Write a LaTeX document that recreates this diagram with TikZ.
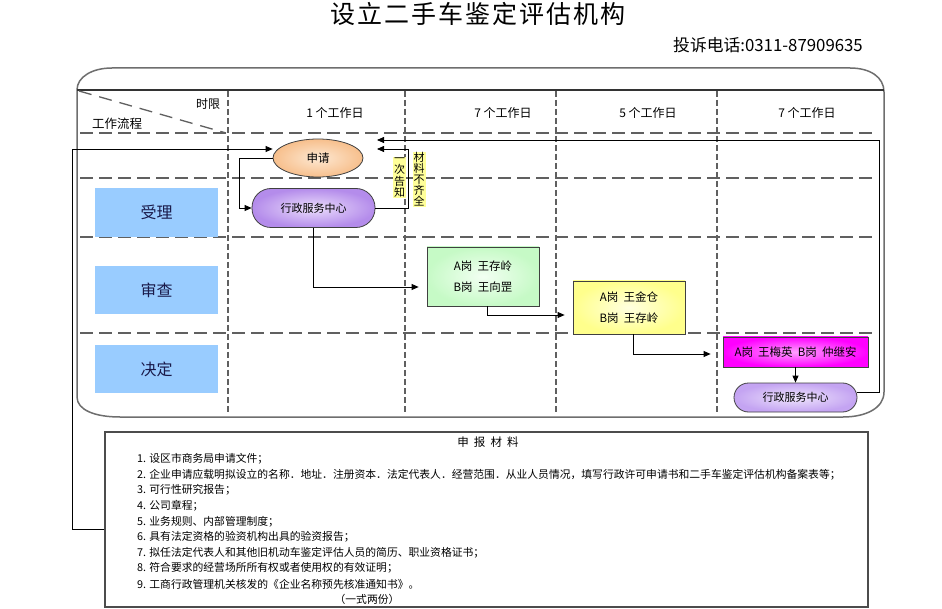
\documentclass[tikz,border=0pt]{standalone}
\usepackage{fontspec}
\setmainfont{Noto Sans CJK SC}
\usetikzlibrary{shapes.geometric,arrows.meta,calc}
\newcommand\myfs[1]{\fontsize{#1}{#1}\selectfont}
\definecolor{catblue}{HTML}{99CCFF}
\definecolor{cattext}{HTML}{1A1A4A}
\definecolor{peachO}{HTML}{F7BF8C}
\definecolor{peachI}{HTML}{FDE8D2}
\definecolor{purpO}{HTML}{B48CEB}
\definecolor{purpI}{HTML}{EBDDFB}
\definecolor{lavO}{HTML}{C4A4F2}
\definecolor{lavI}{HTML}{EEE4FC}
\definecolor{grnO}{HTML}{C6FAC6}
\definecolor{grnI}{HTML}{F2FFF2}
\definecolor{yelO}{HTML}{FFFF8C}
\definecolor{yelI}{HTML}{FFFFE0}
\definecolor{magO}{HTML}{FF00FF}
\definecolor{magI}{HTML}{FFA0FF}
\definecolor{tagY}{HTML}{FFFF99}
\definecolor{dashG}{HTML}{606060}
\definecolor{frameG}{HTML}{6E6E6E}
\begin{document}
\begin{tikzpicture}[x=1pt,y=-1pt,
  arr/.style={draw=black,line width=0.8pt,-{Triangle[length=7pt,width=6pt]}},
  plain/.style={draw=black,line width=0.8pt},
  hdash/.style={draw=dashG,line width=1.3pt,dash pattern=on 13pt off 6pt},
  vdash/.style={draw=dashG,line width=1.3pt,dash pattern=on 6pt off 3pt},
  catbox/.style={fill=catblue,minimum width=123pt,minimum height=48pt,font=\myfs{16},text=cattext,inner sep=0pt},
  hdr/.style={font=\myfs{12},inner sep=0pt},
  nbox/.style={draw=black!75,line width=0.8pt,inner sep=0pt,font=\myfs{11.5}},
  tag/.style={fill=tagY,inner sep=1pt,font=\myfs{11},align=center,text width=11pt},
  mline/.style={anchor=west,inner sep=0pt,font=\myfs{10.8}}
]
\useasboundingbox (0,0) rectangle (942,609);
\fill[white] (0,0) rectangle (942,609);

% title
\node[inner sep=0pt] (title) at (478,14) {\addfontfeature{LetterSpace=8}\myfs{25}设立二手车鉴定评估机构};
\node[anchor=west,inner sep=0pt] (phone) at (673,45) {\myfs{16.8}投诉电话:0311-87909635};

% outer frame
\draw[frameG,line width=1.5pt] (77,90) .. controls (77,77) and (92,68) .. (112,68) -- (850,68)
  .. controls (870,68) and (884,77) .. (884,92) -- (884,392)
  .. controls (884,408) and (866,417) .. (843,417) -- (120,417)
  .. controls (95,417) and (77,410) .. (77,397) -- cycle;
\draw[black!80,line width=1.2pt] (77,90) -- (884,90);

% grid
\foreach \yy in {133,178,237,333} \draw[hdash] (80,\yy) -- (877,\yy);
\foreach \xx in {228,405,556,717} \draw[vdash] (\xx,91) -- (\xx,414);
\draw[draw=dashG,line width=1.3pt,dash pattern=on 13pt off 8pt] (79,91) -- (226,133);

% header texts
\node[hdr] (shixian) at (208,104) {时限};
\node[font=\myfs{12.5},inner sep=0pt] (liucheng) at (117,124) {工作流程};
\node[hdr] (h1) at (335,113) {1 个工作日};
\node[hdr] (h2) at (503,113) {7 个工作日};
\node[hdr] (h3) at (648,113) {5 个工作日};
\node[hdr] (h4) at (807,113) {7 个工作日};

% category boxes
\node[catbox,minimum height=49pt] (shouli) at (156.5,212.5) {受理};
\node[catbox] (shencha) at (156.5,290) {审查};
\node[catbox] (jueding) at (156.5,369) {决定};

% flow nodes
\node[nbox,ellipse,shade,inner color=peachI,outer color=peachO,minimum width=90pt,minimum height=38pt] (sq) at (318,158) {申请};
\node[nbox,rounded corners=19pt,shade,inner color=purpI,outer color=purpO,minimum width=123pt,minimum height=39pt] (xz1) at (313.5,208) {\myfs{11}行政服务中心};
\node[nbox,shade,inner color=grnI,outer color=grnO,minimum width=112pt,minimum height=59pt,align=center] (ga) at (483,276.5) {A岗\ \ 王存岭\\[9pt]B岗\ \ 王向罡};
\node[nbox,shade,inner color=yelI,outer color=yelO,minimum width=112pt,minimum height=53pt,align=center] (gb) at (629,307.5) {A岗\ \ 王金仓\\[9pt]B岗\ \ 王存岭};
\node[nbox,shade,inner color=magI,outer color=magO,minimum width=145pt,minimum height=30pt] (gc) at (795.5,352) {A岗\ \ 王梅英\ \ B岗\ \ 仲继安};
\node[nbox,rounded corners=14.5pt,shade,inner color=lavI,outer color=lavO,minimum width=123pt,minimum height=29pt] (xz2) at (795.5,397.5) {\myfs{11}行政服务中心};

% tags
\node[tag] (tag1) at (399.5,177.5) {\fontsize{11}{11.3}\selectfont 一\\次\\告\\知};
\node[tag] (tag2) at (419,179.5) {\fontsize{11}{11}\selectfont 材\\料\\不\\齐\\全};

% connector corner points
\coordinate (L1) at (72,529);
\coordinate (L2) at (72,149);
\coordinate (R1) at (879,140);
\coordinate (T1) at (377,140);
\coordinate (R2) at (408,149);
\coordinate (T2) at (377,149);

% materials box
\node[draw=black!70,line width=1.3pt,minimum width=763pt,minimum height=175pt,inner sep=0pt] (mat) at (486.5,519.5) {};
\node[inner sep=0pt,font=\myfs{11.5}] (mt) at (488,442) {申\ \ 报\ \ 材\ \ 料};
\node[mline] (m1) at (137,459) {1. 设区市商务局申请文件；};
\node[mline] (m2) at (137,475) {2. 企业申请应载明拟设立的名称．地址．注册资本．法定代表人．经营范围．从业人员情况，填写行政许可申请书和二手车鉴定评估机构备案表等；};
\node[mline] (m3) at (137,490) {3. 可行性研究报告；};
\node[mline] (m4) at (137,506) {4. 公司章程；};
\node[mline] (m5) at (137,522) {5. 业务规则、内部管理制度；};
\node[mline] (m6) at (137,537) {6. 具有法定资格的验资机构出具的验资报告；};
\node[mline] (m7) at (137,553) {7. 拟任法定代表人和其他旧机动车鉴定评估人员的简历、职业资格证书；};
\node[mline] (m8) at (137,568) {8. 符合要求的经营场所所有权或者使用权的有效证明；};
\node[mline] (m9) at (137,584) {9. 工商行政管理机关核发的《企业名称预先核准通知书》。};
\node[inner sep=0pt,font=\myfs{10.8}] (mc) at (367,599) {（一式两份）};

\draw[arr] (mat.west |- L1) -- (L1) -- (L2) -- (sq.west |- L2);
\draw[arr] (sq.west) -- ++(-33,0) |- (xz1.west);
\draw[arr,shorten >=8pt] (xz1.south) |- ([yshift=-10.5pt]ga.west);
\draw[arr,shorten >=8pt] ([xshift=4pt]ga.south) |- ([yshift=-7.5pt]gb.west);
\draw[arr,shorten >=12pt] ([xshift=4pt]gb.south) |- ([yshift=-2pt]gc.west);
\draw[arr] (gc.south) -- (xz2.north);
\draw[arr] ([yshift=5.5pt]xz2.east) -| (R1) -- (T1);
\draw[arr] (xz1.east) -| (R2) -- (T2);
\end{tikzpicture}
\end{document}
